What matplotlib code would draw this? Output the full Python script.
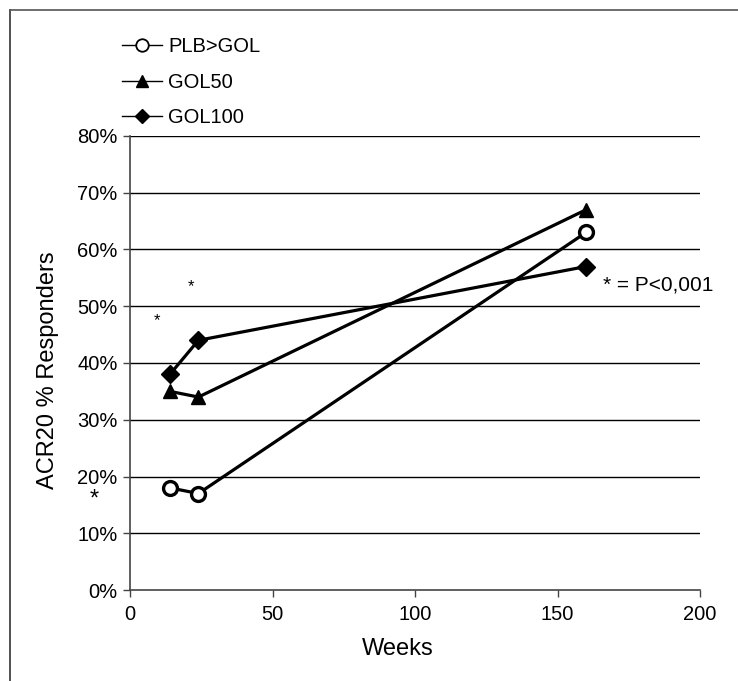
import matplotlib
matplotlib.use("Agg")
import matplotlib.pyplot as plt
from matplotlib.lines import Line2D
from matplotlib.ticker import PercentFormatter

weeks = [14, 24, 160]
plb_gol = [18, 17, 63]
gol50 = [35, 34, 67]
gol100 = [38, 44, 57]
series_labels = ["PLB>GOL", "GOL50", "GOL100"]
x_ticks = [0, 50, 100, 150, 200]
y_ticks = [0, 10, 20, 30, 40, 50, 60, 70, 80]

plt.rcParams['font.family'] = ['Liberation Sans', 'DejaVu Sans']

fig = plt.figure(figsize=(7.38, 6.81), dpi=100)
ax = fig.add_axes([130/738, 1-590/681, 570/738, 454/681])

for yv in y_ticks[1:]:
    ax.axhline(yv, color='black', lw=1.0, zorder=1)

lw = 2.3
ax.plot(weeks, plb_gol, color='black', lw=lw, marker='o', ms=10, mfc='white', mec='black', mew=2.4, zorder=3)
ax.plot(weeks, gol50, color='black', lw=lw, marker='^', ms=10.5, mfc='black', mec='black', zorder=3)
ax.plot(weeks, gol100, color='black', lw=lw, marker='D', ms=9.5, mfc='black', mec='black', zorder=3)

ax.set_xlim(0, 200)
ax.set_ylim(0, 80)
ax.set_xticks(x_ticks)
ax.set_yticks(y_ticks)
ax.yaxis.set_major_formatter(PercentFormatter(decimals=0))
ax.tick_params(labelsize=14.5, direction='out', length=5, width=1, color='#444444')
ax.tick_params(axis='y', pad=4)
ax.tick_params(axis='x', pad=6)
for s in ['top', 'right']:
    ax.spines[s].set_visible(False)
for s in ['left', 'bottom']:
    ax.spines[s].set_color('#444444')
    ax.spines[s].set_linewidth(1.2)
ax.set_xlabel("Weeks", fontsize=17)
ax.xaxis.set_label_coords(0.47, -0.105)
ax.set_ylabel("ACR20 % Responders", fontsize=17)
ax.yaxis.set_label_coords(-0.124, 0.485)

# significance markers
ax.text(9.5, 47.5, "*", fontsize=12, ha='center', va='center')
ax.text(21.5, 53.5, "*", fontsize=12, ha='center', va='center')
ax.text(-12.5, 16.0, "*", fontsize=17, ha='center', va='center', clip_on=False)
ax.text(166, 53.8, "* = P<0,001", fontsize=15, ha='left', va='center', clip_on=False)

handles = [
    Line2D([], [], color='black', lw=1.0, marker='o', ms=9, mfc='white', mec='black', mew=1.3),
    Line2D([], [], color='black', lw=1.0, marker='^', ms=9, mfc='black', mec='black'),
    Line2D([], [], color='black', lw=1.0, marker='D', ms=7, mfc='black', mec='black'),
]
fig.legend(handles, series_labels, loc='upper left', bbox_to_anchor=(104/738, 1-19/681),
           frameon=False, fontsize=14.5, handlelength=2.0, handletextpad=0.3, labelspacing=0.82)

# page border lines
fig.add_artist(Line2D([10/738, 10/738], [0, 1-10/681], transform=fig.transFigure, color='#333333', lw=1.2))
fig.add_artist(Line2D([10/738, 1], [1-10/681, 1-10/681], transform=fig.transFigure, color='#555555', lw=1.2))

fig.savefig("out.png", dpi=100)
